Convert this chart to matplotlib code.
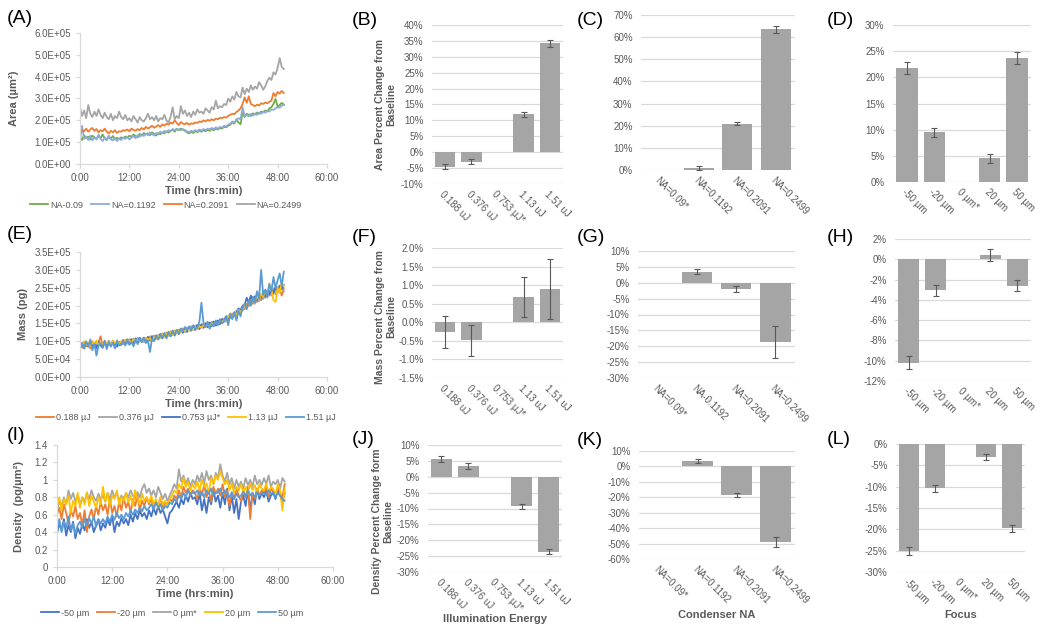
import numpy as np
import matplotlib
matplotlib.use("Agg")
import matplotlib.pyplot as plt

plt.rcParams['font.family'] = ['Liberation Sans', 'DejaVu Sans']

W, H = 1050, 634
GRID = '#d9d9d9'
TXT = '#595959'
BAR = '#a5a5a5'

# ---------------- time series (sampled every 0.5 h) ----------------
step_hrs = 0.5

# (A) area, units of 1e5 um^2
area_na009 = [1.20, 1.10, 1.32, 1.18, 1.25, 1.12, 1.30, 1.22, 1.15, 1.28,
              1.20, 1.35, 1.18, 1.10, 1.24, 1.16, 1.28, 1.12, 1.20, 1.15,
              1.22, 1.18, 1.26, 1.20, 1.30, 1.24, 1.35, 1.28, 1.22, 1.38,
              1.30, 1.42, 1.35, 1.40, 1.32, 1.45, 1.38, 1.30, 1.42, 1.36,
              1.45, 1.40, 1.50, 1.44, 1.52, 1.58, 1.48, 1.60, 1.55, 1.62,
              1.58, 1.52, 1.45, 1.40, 1.48, 1.42, 1.50, 1.46, 1.52, 1.48,
              1.55, 1.50, 1.56, 1.52, 1.60, 1.55, 1.62, 1.58, 1.65, 1.62,
              1.70, 1.68, 1.75, 1.80, 1.92, 1.85, 2.05, 1.90, 1.82, 2.35,
              2.15, 2.30, 2.25, 2.20, 2.32, 2.28, 2.36, 2.30, 2.40, 2.38,
              2.45, 2.42, 2.55, 2.60, 2.75, 2.98, 2.62, 2.70, 2.80, 2.72]
area_na1192 = [1.05, 1.75, 1.15, 1.25, 1.10, 1.30, 1.08, 1.22, 1.12, 1.35,
               1.15, 1.05, 1.22, 1.10, 1.30, 1.12, 1.08, 1.20, 1.05, 1.15,
               1.10, 1.20, 1.15, 1.25, 1.12, 1.22, 1.28, 1.18, 1.32, 1.25,
               1.35, 1.28, 1.40, 1.32, 1.45, 1.38, 1.30, 1.42, 1.35, 1.48,
               1.40, 1.52, 1.45, 1.55, 1.50, 1.60, 1.55, 1.62, 1.58, 1.55,
               1.60, 1.55, 1.50, 1.45, 1.52, 1.48, 1.55, 1.50, 1.58, 1.52,
               1.60, 1.55, 1.62, 1.58, 1.65, 1.60, 1.68, 1.62, 1.70, 1.66,
               1.75, 1.72, 1.80, 1.85, 1.95, 1.90, 2.00, 2.10, 2.05, 2.60,
               2.20, 2.25, 2.18, 2.30, 2.22, 2.28, 2.25, 2.35, 2.30, 2.38,
               2.35, 2.42, 2.40, 2.50, 2.48, 2.55, 2.60, 2.58, 2.68, 2.70]
area_na2091 = [1.45, 1.55, 1.50, 1.62, 1.48, 1.58, 1.65, 1.52, 1.60, 1.45,
               1.55, 1.50, 1.62, 1.48, 1.40, 1.52, 1.45, 1.55, 1.42, 1.50,
               1.48, 1.55, 1.52, 1.58, 1.50, 1.62, 1.56, 1.52, 1.60, 1.55,
               1.65, 1.58, 1.70, 1.62, 1.68, 1.75, 1.66, 1.72, 1.78, 1.70,
               1.82, 1.75, 1.85, 1.80, 1.90, 1.85, 2.00, 1.88, 1.78, 1.92,
               1.85, 1.82, 1.88, 1.80, 1.86, 1.84, 1.90, 1.88, 1.95, 1.92,
               2.00, 1.95, 2.02, 1.98, 2.05, 2.00, 2.08, 2.05, 2.12, 2.10,
               2.15, 2.12, 2.20, 2.25, 2.30, 2.28, 2.38, 2.45, 2.55, 2.75,
               3.05, 2.80, 3.10, 2.75, 2.70, 2.65, 2.72, 2.68, 2.78, 2.75,
               2.82, 2.78, 2.85, 2.90, 3.25, 3.10, 3.30, 3.22, 3.35, 3.25]
area_na2499 = [2.60, 2.20, 2.45, 2.10, 2.70, 2.30, 2.15, 2.40, 2.20, 2.50,
               2.25, 2.10, 2.35, 2.15, 2.05, 2.30, 2.00, 2.20, 2.10, 2.40,
               2.15, 2.05, 2.25, 2.00, 2.10, 1.95, 2.20, 2.05, 1.90, 2.15,
               2.00, 1.95, 2.10, 2.30, 2.05, 2.15, 2.00, 2.20, 1.95, 2.10,
               2.05, 2.25, 2.00, 1.90, 2.15, 2.60, 2.05, 2.20, 2.10, 2.65,
               2.30, 2.45, 2.20, 2.35, 2.15, 2.40, 2.25, 2.50, 2.35, 2.40,
               2.30, 2.55, 2.45, 2.35, 2.60, 2.50, 2.90, 2.55, 2.65, 2.60,
               2.75, 2.70, 3.00, 2.85, 3.10, 2.95, 3.30, 3.10, 3.05, 3.50,
               3.20, 3.45, 3.30, 3.60, 3.40, 3.55, 3.45, 3.75, 3.60, 3.40,
               3.55, 3.80, 3.95, 3.85, 4.20, 4.10, 4.40, 4.85, 4.45, 4.35]
area_labels = ['NA-0.09', 'NA=0.1192', 'NA=0.2091', 'NA=0.2499']
area_colors = ['#70ad47', '#8faadc', '#ed7d31', '#a5a5a5']

# (E) mass, units of 1e5 pg
mass_0188 = [0.92, 0.82, 0.98, 0.86, 0.95, 0.80, 1.00, 0.88, 0.84, 0.97,
             1.14, 0.88, 0.99, 0.86, 1.00, 0.90, 1.02, 0.88, 0.98, 0.92,
             0.90, 1.04, 0.94, 1.06, 0.92, 1.04, 0.98, 1.05, 1.00, 1.08,
             1.00, 1.10, 1.02, 1.12, 1.04, 1.14, 1.06, 1.16, 1.08, 1.20,
             1.12, 1.22, 1.14, 1.26, 1.18, 1.30, 1.20, 1.32, 1.24, 1.36,
             1.26, 1.38, 1.28, 1.40, 1.30, 1.42, 1.32, 1.45, 1.36, 1.44,
             1.38, 1.50, 1.40, 1.52, 1.44, 1.55, 1.46, 1.58, 1.50, 1.62,
             1.55, 1.68, 1.60, 1.78, 1.66, 1.82, 1.72, 1.90, 1.80, 1.95,
             1.90, 2.05, 1.98, 2.15, 2.05, 2.20, 2.10, 2.28, 2.15, 2.35,
             2.22, 2.40, 2.28, 2.45, 2.32, 2.50, 2.38, 2.45, 2.28, 2.48]
mass_0376 = [0.86, 0.96, 0.84, 0.98, 0.88, 1.00, 0.86, 0.95, 0.90, 0.98,
             0.92, 0.86, 1.00, 0.88, 1.02, 0.90, 0.99, 0.87, 1.03, 0.92,
             1.00, 0.92, 1.04, 0.94, 1.06, 0.96, 1.08, 0.97, 1.10, 1.00,
             1.06, 0.98, 1.10, 1.02, 1.14, 1.04, 1.16, 1.08, 1.18, 1.10,
             1.22, 1.12, 1.25, 1.15, 1.28, 1.18, 1.30, 1.22, 1.33, 1.24,
             1.36, 1.26, 1.38, 1.30, 1.42, 1.32, 1.44, 1.36, 1.46, 1.38,
             1.48, 1.40, 1.52, 1.44, 1.55, 1.46, 1.58, 1.50, 1.60, 1.54,
             1.64, 1.58, 1.72, 1.65, 1.78, 1.70, 1.86, 1.76, 1.92, 1.85,
             2.00, 1.92, 2.10, 2.00, 2.18, 2.05, 2.25, 2.12, 2.30, 2.18,
             2.36, 2.22, 2.42, 2.28, 2.48, 2.32, 2.52, 2.36, 2.55, 2.40]
mass_0753 = [0.82, 0.94, 0.80, 0.98, 0.85, 1.02, 0.84, 0.96, 0.80, 0.99,
             0.88, 0.82, 0.98, 0.85, 0.96, 0.88, 1.00, 0.90, 0.85, 0.98,
             0.90, 1.02, 0.92, 1.04, 0.93, 1.06, 0.95, 1.08, 0.96, 1.10,
             0.98, 1.10, 1.00, 1.12, 1.02, 1.14, 1.03, 1.16, 1.06, 1.20,
             1.08, 1.22, 1.12, 1.25, 1.14, 1.28, 1.16, 1.30, 1.20, 1.34,
             1.24, 1.36, 1.26, 1.40, 1.30, 1.42, 1.32, 1.46, 1.34, 1.48,
             1.38, 1.50, 1.40, 1.52, 1.42, 1.55, 1.44, 1.58, 1.48, 1.62,
             1.58, 1.70, 1.60, 1.75, 1.72, 1.78, 1.80, 1.92, 1.84, 2.00,
             2.02, 2.22, 2.08, 2.28, 2.12, 2.26, 2.15, 2.32, 2.22, 2.36,
             2.26, 2.42, 2.32, 2.46, 2.36, 2.52, 2.40, 2.56, 2.46, 2.58]
mass_113 = [0.95, 0.88, 1.00, 0.90, 0.96, 0.85, 0.98, 0.92, 1.02, 0.90,
            0.96, 0.92, 1.00, 0.94, 0.98, 0.90, 1.02, 0.95, 0.99, 0.93,
            1.00, 0.95, 1.04, 0.98, 1.02, 0.96, 1.06, 1.00, 1.04, 0.98,
            1.06, 1.02, 1.10, 1.04, 1.08, 1.00, 1.12, 1.06, 1.15, 1.10,
            1.18, 1.12, 1.22, 1.16, 1.25, 1.18, 1.28, 1.22, 1.30, 1.25,
            1.32, 1.28, 1.36, 1.30, 1.38, 1.33, 1.40, 1.35, 1.42, 1.38,
            1.45, 1.40, 1.48, 1.43, 1.50, 1.46, 1.55, 1.48, 1.58, 1.52,
            1.60, 1.55, 1.70, 1.75, 1.68, 1.80, 1.74, 1.88, 1.82, 1.92,
            2.00, 1.95, 2.10, 2.05, 2.20, 2.12, 2.25, 2.18, 2.32, 2.25,
            2.40, 2.30, 2.62, 2.45, 2.15, 2.10, 2.50, 2.35, 2.65, 2.55]
mass_151 = [0.82, 0.95, 0.80, 1.00, 0.85, 1.05, 0.75, 0.92, 0.60, 0.88,
            0.95, 0.82, 1.02, 0.78, 0.98, 0.85, 0.96, 0.80, 1.00, 0.88,
            0.92, 1.00, 0.88, 1.04, 0.90, 0.98, 0.86, 1.05, 0.92, 1.08,
            0.98, 1.10, 0.95, 1.02, 0.70, 1.08, 1.00, 1.15, 1.05, 1.18,
            1.10, 1.22, 1.08, 1.25, 1.15, 1.28, 1.18, 1.32, 1.22, 1.35,
            1.28, 1.40, 1.30, 1.42, 1.32, 1.45, 1.35, 1.38, 1.55, 2.08,
            1.50, 1.40, 1.55, 1.35, 1.48, 1.42, 1.58, 1.45, 1.62, 1.50,
            1.55, 1.70, 1.45, 1.75, 1.62, 1.80, 1.58, 1.85, 1.70, 1.95,
            2.05, 1.90, 2.15, 2.00, 2.25, 2.10, 2.40, 2.20, 3.00, 2.30,
            2.45, 2.25, 2.60, 2.40, 2.80, 2.50, 2.70, 2.90, 2.55, 2.95]
mass_labels = ['0.188 µJ', '0.376 µJ', '0.753 µJ*', '1.13 µJ', '1.51 µJ']
mass_colors = ['#ed7d31', '#a5a5a5', '#4472c4', '#ffc000', '#5b9bd5']

# (I) density, pg/um^2
dens_m50 = [0.38, 0.50, 0.42, 0.55, 0.36, 0.48, 0.40, 0.52, 0.33, 0.45,
            0.38, 0.50, 0.42, 0.55, 0.45, 0.52, 0.40, 0.48, 0.55, 0.42,
            0.50, 0.45, 0.55, 0.48, 0.58, 0.40, 0.52, 0.47, 0.56, 0.50,
            0.55, 0.48, 0.60, 0.52, 0.62, 0.55, 0.65, 0.58, 0.62, 0.55,
            0.65, 0.58, 0.68, 0.60, 0.70, 0.62, 0.66, 0.58, 0.50, 0.62,
            0.65, 0.70, 0.75, 0.68, 0.78, 0.72, 0.82, 0.75, 0.85, 0.78,
            0.80, 0.72, 0.85, 0.65, 0.78, 0.62, 0.80, 0.72, 0.88, 0.75,
            0.82, 0.68, 0.85, 0.72, 0.90, 0.65, 0.82, 0.62, 0.78, 0.55,
            0.75, 0.82, 0.70, 0.88, 0.65, 0.85, 0.72, 0.90, 0.78, 0.85,
            0.80, 0.88, 0.75, 0.82, 0.85, 0.78, 0.90, 0.82, 0.75, 0.85]
dens_m20 = [0.60, 0.68, 0.55, 0.72, 0.62, 0.50, 0.65, 0.58, 0.70, 0.55,
            0.62, 0.48, 0.65, 0.40, 0.58, 0.66, 0.55, 0.70, 0.60, 0.75,
            0.65, 0.72, 0.60, 0.78, 0.62, 0.70, 0.58, 0.75, 0.65, 0.80,
            0.68, 0.75, 0.62, 0.78, 0.70, 0.82, 0.65, 0.76, 0.70, 0.80,
            0.72, 0.78, 0.68, 0.75, 0.70, 0.80, 0.65, 0.74, 0.72, 0.78,
            0.75, 0.82, 0.78, 0.88, 0.80, 0.92, 0.85, 0.90, 0.82, 0.88,
            0.85, 0.78, 0.90, 0.82, 0.95, 0.80, 0.88, 0.75, 0.92, 0.84,
            0.90, 0.82, 0.95, 0.80, 0.88, 0.70, 0.85, 0.78, 0.90, 0.82,
            0.75, 0.88, 0.80, 0.92, 0.55, 0.85, 0.78, 0.90, 0.82, 0.88,
            0.85, 0.92, 0.80, 0.90, 0.86, 0.82, 0.92, 0.85, 0.80, 0.95]
dens_0 = [0.65, 0.75, 0.70, 0.80, 0.72, 0.88, 0.78, 0.85, 0.75, 0.82,
          0.72, 0.80, 0.75, 0.85, 0.78, 0.88, 0.80, 0.76, 0.84, 0.78,
          0.82, 0.75, 0.85, 0.78, 0.88, 0.80, 0.84, 0.76, 0.82, 0.78,
          0.85, 0.80, 0.88, 0.82, 0.78, 0.86, 0.80, 0.90, 0.95, 0.85,
          0.90, 0.82, 0.88, 0.80, 0.92, 0.85, 0.78, 0.84, 0.76, 0.82,
          0.88, 0.95, 0.90, 1.12, 0.98, 1.05, 0.95, 1.02, 0.92, 1.00,
          0.95, 1.05, 0.98, 1.08, 0.96, 1.10, 1.00, 1.05, 0.95, 1.08,
          1.02, 1.18, 1.05, 0.98, 1.08, 0.95, 1.02, 0.90, 1.00, 0.92,
          0.98, 0.90, 1.02, 0.94, 1.00, 0.92, 1.05, 0.95, 1.00, 0.94,
          1.02, 0.95, 1.05, 0.92, 0.98, 0.95, 1.00, 0.90, 1.02, 0.98]
dens_p20 = [0.70, 0.80, 0.65, 0.78, 0.72, 0.82, 0.62, 0.76, 0.70, 0.85,
            0.68, 0.80, 0.72, 0.86, 0.70, 0.82, 0.75, 0.68, 0.80, 0.72,
            0.92, 0.75, 0.85, 0.70, 0.82, 0.78, 0.88, 0.72, 0.80, 0.76,
            0.85, 0.74, 0.82, 0.70, 0.88, 0.78, 0.72, 0.84, 0.76, 0.80,
            0.74, 0.82, 0.72, 0.78, 0.68, 0.80, 0.72, 0.76, 0.70, 0.78,
            0.82, 0.88, 0.85, 0.95, 0.90, 1.02, 0.92, 0.98, 0.88, 0.95,
            0.90, 0.98, 0.88, 1.00, 0.92, 0.96, 0.85, 1.02, 0.95, 1.05,
            1.00, 1.10, 1.02, 0.95, 1.00, 0.88, 0.96, 0.85, 0.92, 0.88,
            0.95, 0.86, 0.92, 0.84, 0.96, 0.88, 0.94, 0.85, 0.95, 0.90,
            0.88, 0.96, 0.85, 0.92, 0.90, 0.82, 0.95, 0.88, 0.65, 0.90]
dens_p50 = [0.45, 0.55, 0.40, 0.52, 0.45, 0.58, 0.42, 0.50, 0.38, 0.48,
            0.52, 0.45, 0.55, 0.48, 0.56, 0.50, 0.58, 0.46, 0.54, 0.50,
            0.55, 0.50, 0.58, 0.52, 0.60, 0.54, 0.62, 0.56, 0.60, 0.55,
            0.62, 0.58, 0.65, 0.60, 0.66, 0.62, 0.68, 0.64, 0.70, 0.65,
            0.68, 0.72, 0.66, 0.74, 0.68, 0.72, 0.65, 0.70, 0.68, 0.74,
            0.72, 0.78, 0.75, 0.82, 0.78, 0.85, 0.80, 0.88, 0.82, 0.86,
            0.84, 0.88, 0.82, 0.86, 0.80, 0.88, 0.84, 0.90, 0.82, 0.86,
            0.85, 0.90, 0.82, 0.88, 0.84, 0.80, 0.86, 0.78, 0.84, 0.80,
            0.82, 0.86, 0.80, 0.88, 0.82, 0.85, 0.80, 0.86, 0.82, 0.84,
            0.85, 0.82, 0.88, 0.84, 0.86, 0.80, 0.85, 0.82, 0.78, 0.76]
dens_labels = ['-50 µm', '-20 µm', '0 µm*', '20 µm', '50 µm']
dens_colors = ['#4472c4', '#ed7d31', '#a5a5a5', '#ffc000', '#5b9bd5']

# ---------------- bar charts (percent change from baseline) ----------------
energy_cats = ['0.188 uJ', '0.376 uJ', '0.753 µJ*', '1.13 uJ', '1.51 uJ']
na_cats = ['NA=0.09*', 'NA=0.1192', 'NA=0.2091', 'NA=0.2499']
na_cats_g = ['NA=0.09*', 'NA-0.1192', 'NA=0.2091', 'NA=0.2499']
focus_cats = ['-50 µm', '-20 µm', '0 µm*', '20 µm', '50 µm']

area_energy = [-4.5, -3.0, 0.0, 11.9, 34.2]
area_energy_err = [0.8, 0.8, 0.0, 0.7, 1.0]
area_na = [0.0, 1.0, 21.0, 63.5]
area_na_err = [0.0, 0.8, 0.9, 1.5]
area_focus = [21.8, 9.5, 0.0, 4.5, 23.7]
area_focus_err = [1.2, 0.9, 0.0, 0.8, 1.2]

mass_energy = [-0.26, -0.49, 0.0, 0.68, 0.90]
mass_energy_err = [0.42, 0.41, 0.0, 0.53, 0.80]
mass_na = [0.0, 3.4, -1.9, -18.7]
mass_na_err = [0.0, 0.8, 1.0, 4.95]
mass_focus = [-10.2, -3.06, 0.0, 0.42, -2.6]
mass_focus_err = [0.65, 0.55, 0.0, 0.55, 0.55]

dens_energy = [5.5, 3.4, 0.0, -9.3, -23.6]
dens_energy_err = [1.0, 1.0, 0.0, 0.7, 0.7]
dens_na = [0.0, 3.3, -18.4, -49.0]
dens_na_err = [0.0, 1.2, 1.2, 3.2]
dens_focus = [-25.0, -10.4, 0.0, -3.1, -19.8]
dens_focus_err = [0.9, 0.8, 0.0, 0.7, 0.8]


def px_axes(fig, l, t, r, b):
    return fig.add_axes([l / W, 1 - b / H, (r - l) / W, (b - t) / H])


def time_series(ax, series, labels, colors, ymax, ystep, yfmt, ylabel, ylab_x, leg_x, leg_y):
    for vals, lab, col in zip(series, labels, colors):
        t = np.arange(len(vals)) * step_hrs
        ax.plot(t, vals, color=col, lw=1.3, label=lab)
    ax.set_xlim(0, 60)
    ax.set_ylim(0, ymax)
    ax.set_xticks(np.arange(0, 61, 12))
    ax.set_xticklabels([f"{h}:00" for h in range(0, 61, 12)])
    yt = np.arange(0, ymax + ystep / 2, ystep)
    ax.set_yticks(yt)
    ax.set_yticklabels([yfmt(v) for v in yt])
    for s in ['top', 'right']:
        ax.spines[s].set_visible(False)
    for s in ['left', 'bottom']:
        ax.spines[s].set_color(GRID)
        ax.spines[s].set_linewidth(0.9)
    ax.tick_params(colors=GRID, labelcolor=TXT, labelsize=7, length=3, width=0.9)
    ax.set_xlabel('Time (hrs:min)', fontsize=8, fontweight='bold', color=TXT, labelpad=2)
    ax.set_ylabel(ylabel, fontsize=8, fontweight='bold', color=TXT)
    ax.yaxis.set_label_coords(ylab_x, 0.5)
    ax.legend(loc='center', bbox_to_anchor=(leg_x / W, 1 - leg_y / H),
              bbox_transform=fig.transFigure, ncol=len(labels), frameon=False,
              fontsize=6.5, labelcolor=TXT, handlelength=2.0, handletextpad=0.2,
              columnspacing=0.9)


def bar_chart(ax, cats, vals, errs, ymin, ymax, ystep, fmt='{:.0f}%'):
    x = np.arange(len(cats))
    ax.bar(x, vals, width=0.78, color=BAR, zorder=2)
    for xi, v, e in zip(x, vals, errs):
        if e > 0:
            ax.errorbar(xi, v, yerr=e, color=TXT, lw=0.8, capsize=2,
                        capthick=0.8, zorder=3)
    ax.set_xlim(-0.5, len(cats) - 0.5)
    ax.set_ylim(ymin, ymax)
    yt = np.arange(ymin, ymax + ystep / 2, ystep)
    ax.set_yticks(yt)
    ax.set_yticklabels([fmt.format(round(v, 2) + 0.0) for v in yt])
    ax.grid(axis='y', color=GRID, lw=0.9, zorder=0)
    for s in ax.spines.values():
        s.set_visible(False)
    ax.tick_params(length=0, labelcolor=TXT, labelsize=7)
    ax.tick_params(axis='y', pad=6)
    ax.set_xticks(x)
    ax.set_xticklabels(cats, rotation=-45, ha='left', va='top',
                       rotation_mode='anchor', fontsize=7)


def bar_ylabel(ax, text, xfrac, yfrac=0.5):
    ax.set_ylabel(text, fontsize=7.5, fontweight='bold', color=TXT,
                  multialignment='center')
    ax.yaxis.set_label_coords(xfrac, yfrac)


fig = plt.figure(figsize=(W / 100, H / 100), dpi=100)

# row 1
axA = px_axes(fig, 80, 33, 327, 164)
time_series(axA, [area_na009, area_na1192, area_na2091, area_na2499], area_labels,
            area_colors, 6.0, 1.0, lambda v: f"{v * 1e5:.1E}", 'Area (µm²)', -0.245, 166, 205)
axB = px_axes(fig, 432, 25, 563, 184)
bar_chart(axB, energy_cats, area_energy, area_energy_err, -10, 40, 5)
bar_ylabel(axB, 'Area Percent Change from\nBaseline', -0.27)
axC = px_axes(fig, 641, 15, 795, 170)
bar_chart(axC, na_cats, area_na, area_na_err, 0, 70, 10)
axD = px_axes(fig, 893, 25, 1031, 182)
bar_chart(axD, focus_cats, area_focus, area_focus_err, 0, 30, 5)

# row 2
axE = px_axes(fig, 80, 252, 327, 377)
time_series(axE, [mass_0188, mass_0376, mass_0753, mass_113, mass_151], mass_labels,
            mass_colors, 3.5, 0.5, lambda v: f"{v * 1e5:.1E}", 'Mass (pg)', -0.21, 186, 418)
axF = px_axes(fig, 432, 248, 563, 378)
bar_chart(axF, energy_cats, mass_energy, mass_energy_err, -1.5, 2.0, 0.5, fmt='{:.1f}%')
bar_ylabel(axF, 'Mass Percent Change from\nBaseline', -0.27, 0.47)
axG = px_axes(fig, 638, 251, 795, 378)
bar_chart(axG, na_cats_g, mass_na, mass_na_err, -30, 10, 5)
axH = px_axes(fig, 895, 239, 1031, 381)
bar_chart(axH, focus_cats, mass_focus, mass_focus_err, -12, 2, 2)

# row 3
axI = px_axes(fig, 57, 445, 333, 567)
time_series(axI, [dens_m50, dens_m20, dens_0, dens_p20, dens_p50], dens_labels,
            dens_colors, 1.4, 0.2, lambda v: f"{v:g}", 'Density  (pg/µm²)', -0.12, 172, 613)
axJ = px_axes(fig, 428, 445, 562, 572)
bar_chart(axJ, energy_cats, dens_energy, dens_energy_err, -30, 10, 5)
bar_ylabel(axJ, 'Density Percent Change form\nBaseline', -0.26, 0.4)
axJ.set_xlabel('Illumination Energy', fontsize=8, fontweight='bold', color=TXT, labelpad=1)
axK = px_axes(fig, 639, 451, 795, 559)
bar_chart(axK, na_cats, dens_na, dens_na_err, -60, 10, 10)
axK.set_xlabel('Condenser NA', fontsize=8, fontweight='bold', color=TXT, labelpad=3)
axL = px_axes(fig, 896, 444, 1025, 572)
bar_chart(axL, focus_cats, dens_focus, dens_focus_err, -30, 0, 5)
axL.set_xlabel('Focus', fontsize=8, fontweight='bold', color=TXT, labelpad=3)

# panel letters
letters = {'(A)': (7, 10), '(B)': (352, 12), '(C)': (577, 12), '(D)': (827, 12),
           '(E)': (7, 226), '(F)': (352, 229), '(G)': (577, 229), '(H)': (827, 229),
           '(I)': (7, 427), '(J)': (352, 431), '(K)': (577, 432), '(L)': (827, 431)}
for lab, (lx, ly) in letters.items():
    fig.text(lx / W, 1 - ly / H, lab, fontsize=14, ha='left', va='top', color='black')

fig.savefig('out.png', dpi=100)
